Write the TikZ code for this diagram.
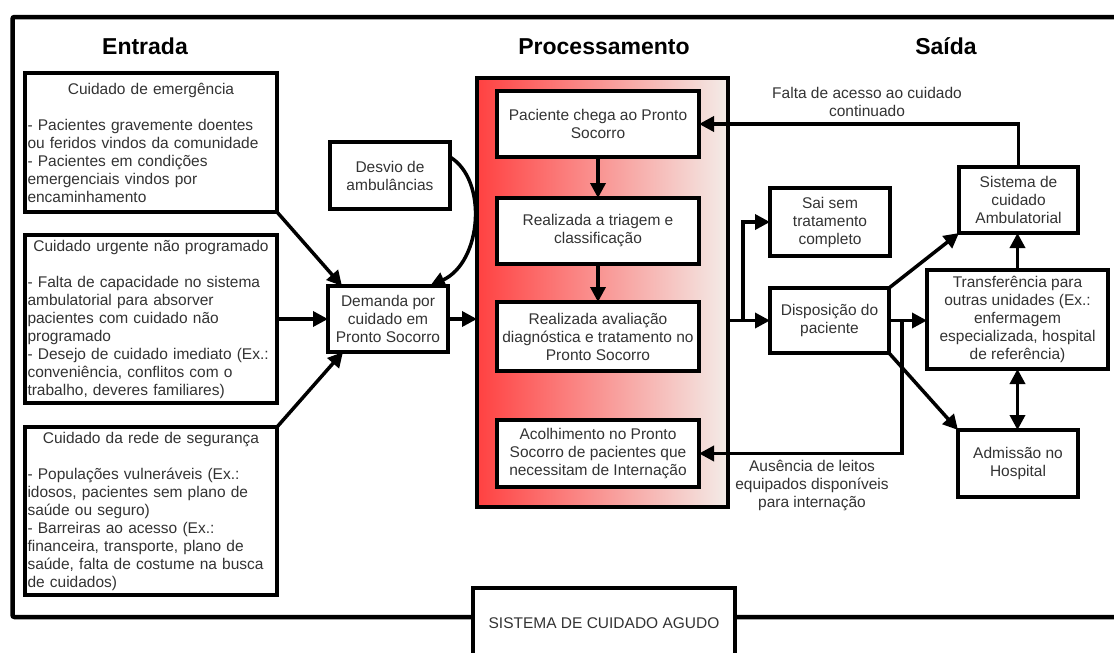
\documentclass[tikz,border=0pt]{standalone}
\usepackage{fontspec}
\setmainfont{Liberation Sans}
\usetikzlibrary{arrows.meta,calc}
\definecolor{txt}{HTML}{333333}
\definecolor{gradL}{HTML}{FF4141}
\definecolor{gradR}{HTML}{F3ECE8}
\begin{document}
\begin{tikzpicture}[x=1pt,y=-1pt,
  box/.style={draw,line width=3.5pt,fill=white,inner sep=0pt,outer sep=0pt,align=center,
    font=\fontsize{15.5}{18}\selectfont,text=txt},
  listbox/.style={box,align=left,text width=247pt,inner xsep=2.5pt,inner ysep=0pt},
  lbl/.style={inner sep=0pt,align=center,font=\fontsize{15.5}{18}\selectfont,text=txt},
  head/.style={inner sep=0pt,anchor=base,font=\fontsize{23}{26}\selectfont\bfseries},
  arr/.style={line width=3.5pt,-{Triangle[length=15pt,width=15pt]}},
  darr/.style={line width=3.5pt,{Triangle[length=15pt,width=15pt]}-{Triangle[length=15pt,width=15pt]}}]
\useasboundingbox (0,0) rectangle (1114,653);
\fill[white] (0,0) rectangle (1114,653);
% outer frame
\draw[line width=4.5pt,rounded corners=2pt] (1125,17) -- (12.5,17) -- (12.5,617) -- (1125,617);

% headings
\node[head] (hin) at (145,54) {Entrada};
\node[head] (hproc) at (604,54) {Processamento};
\node[head] (hout) at (946,54) {Saída};

% input boxes
\node[listbox,minimum height=139pt] (b1) at (151,142.5) {\makebox[247pt][c]{Cuidado de emergência}\\[18pt]
- Pacientes gravemente doentes\\
ou feridos vindos da comunidade\\
- Pacientes em condições\\
emergenciais vindos por\\
encaminhamento};
\node[listbox,minimum height=168pt] (b2) at (151,319) {\makebox[247pt][c]{Cuidado urgente não programado}\\[18pt]
- Falta de capacidade no sistema\\
ambulatorial para absorver\\
pacientes com cuidado não\\
programado\\
- Desejo de cuidado imediato (Ex.:\\
conveniência, conflitos com o\\
trabalho, deveres familiares)};
\node[listbox,minimum height=168pt] (b3) at (151,511) {\makebox[247pt][c]{Cuidado da rede de segurança}\\[18pt]
- Populações vulneráveis (Ex.:\\
idosos, pacientes sem plano de\\
saúde ou seguro)\\
- Barreiras ao acesso (Ex.:\\
financeira, transporte, plano de\\
saúde, falta de costume na busca\\
de cuidados)};

\node[box,minimum width=120pt,minimum height=67pt] (desvio) at (390,175.5) {Desvio de\\ambulâncias};
\node[box,minimum width=120pt,minimum height=66pt] (demanda) at (388,319) {Demanda por\\cuidado em\\Pronto Socorro};

% processing
\node[draw,line width=3.5pt,outer sep=0pt,minimum width=251pt,minimum height=429pt,
  left color=gradL,right color=gradR] (grad) at (602.5,292.5) {};
\node[box,minimum width=202pt,minimum height=66pt] (p1) at (598,124) {Paciente chega ao Pronto\\Socorro};
\node[box,minimum width=202pt,minimum height=66pt] (p2) at (598,231) {Realizada a triagem e\\classificação};
\node[box,minimum width=202pt,minimum height=69pt] (p3) at (598,336.5) {Realizada avaliação\\diagnóstica e tratamento no\\Pronto Socorro};
\node[box,minimum width=202pt,minimum height=67pt] (p4) at (598,453.5) {Acolhimento no Pronto\\Socorro de pacientes que\\necessitam de Internação};

% output
\node[box,minimum width=120pt,minimum height=68pt] (sai) at (830,222) {Sai sem\\tratamento\\completo};
\node[box,minimum width=119pt,minimum height=65pt] (disp) at (829.5,320.5) {Disposição do\\paciente};
\node[box,minimum width=119pt,minimum height=66pt] (sist) at (1018.5,200) {Sistema de\\cuidado\\Ambulatorial};
\node[box,minimum width=181pt,minimum height=99pt] (transf) at (1017.5,319.5) {Transferência para\\outras unidades (Ex.:\\enfermagem\\especializada, hospital\\de referência)};
\node[box,minimum width=120pt,minimum height=67pt] (admis) at (1018,463.5) {Admissão no\\Hospital};

\node[lbl] (lfalta) at (867,102) {Falta de acesso ao cuidado\\continuado};
\node[lbl] (lausencia) at (812,485) {Ausência de leitos\\equipados disponíveis\\para internação};

% bottom box
\node[box,minimum width=262pt,minimum height=100pt] (agudo) at (604,638) {};
\node[lbl] (lagudo) at (604,623) {SISTEMA DE CUIDADO AGUDO};

% connectors
\draw[arr] (b1.south east) -- ($(demanda.north west)+(14,0)$);
\draw[arr] (b2.east) -- (b2.east -| demanda.west);
\draw[arr] (b3.north east) -- ($(demanda.south west)+(15,0)$);
\draw[arr] ($(desvio.north east)+(0,15)$) .. controls (488,180) and (482,262) .. ($(demanda.north east)+(-18,0)$);
\draw[arr] (demanda.east) -- (demanda.east -| grad.west);

\draw[arr] (p1.south) -- (p2.north);
\draw[arr] (p2.south) -- (p3.north);

\coordinate (j1) at (743,320.5);
\coordinate (j2) at (902,320.5);
\draw[arr] (grad.east |- disp.west) -- (disp.west);
\draw[arr] (j1) |- (sai.west);
\draw[arr] (disp.north east) -- (sist.south west);
\draw[arr] (disp.east) -- (disp.east -| transf.west);
\draw[arr] (j2) |- (p4.east);
\draw[arr] (disp.south east) -- (admis.north west);
\draw[darr] (transf.south) -- (transf.south |- admis.north);
\draw[arr] (transf.north) -- (transf.north |- sist.south);
\draw[arr] (sist.north) |- (p1.east);
\end{tikzpicture}
\end{document}
